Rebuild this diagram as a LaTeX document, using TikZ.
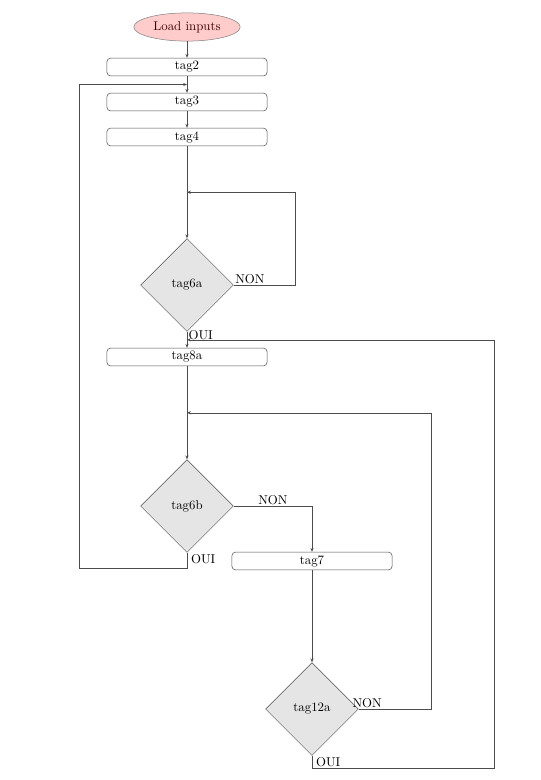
\documentclass[tikz,border=0pt]{standalone}
\usetikzlibrary{shapes.geometric,positioning,calc,arrows.meta}
\tikzset{
  block/.style={draw=black!70, rounded corners=3pt, minimum width=125pt, minimum height=14pt, inner sep=1pt},
  decision/.style={draw=black!70, diamond, fill=gray!20, minimum size=72.5pt, inner sep=0pt},
  startbox/.style={draw=black!50, ellipse, fill=red!20, text=red!25!black, minimum width=83pt, minimum height=22pt, inner sep=1pt},
  lbl/.style={inner sep=1pt},
  link/.style={draw=black!70, ->}
}
\begin{document}
\begin{tikzpicture}[x=0.78pt,y=-0.78pt,>={Stealth[length=3pt,width=2.4pt]}]
\useasboundingbox (0,0) rectangle (540,780);
% main column
\node[startbox] (load) at (187,27) {Load inputs};
\node[block] (tag2) at (187,67) {tag2};
\node[block] (tag3) at (187,102) {tag3};
\node[block] (tag4) at (187,137) {tag4};
\node[decision] (tag6a) at (187,285) {tag6a};
\node[block] (tag8a) at (187,357) {tag8a};
\node[decision] (tag6b) at (187,506) {tag6b};
\node[block] (tag7) at (312,561) {tag7};
\node[decision] (tag12a) at (312,709) {tag12a};
% where the loops come back in
\coordinate (in3) at ($(tag2.south)!0.5!(tag3.north)$);
\coordinate (in6a) at ($(tag4.south)!0.5!(tag6a.north)$);
\coordinate (in8a) at ($(tag6a.south)!0.5!(tag8a.north)$);
\coordinate (in6b) at ($(tag8a.south)!0.5!(tag6b.north)$);
\draw[link] (load) -- (tag2);
\draw[link] (tag2) -- (tag3);
\draw[link] (tag3) -- (tag4);
\draw[link] (tag4) -- (tag6a);
\draw[link] (tag6a.south) node[lbl, anchor=north west, yshift=2pt] {OUI} -- (tag8a);
\draw[link] (tag8a) -- (tag6b);
\draw[link] (tag7) -- (tag12a);
% loops
\draw[link] (tag6a.east) node[lbl, anchor=south west] {NON} -- ++(62,0) |- (in6a);
\draw[link] (tag6b.east) -| node[lbl, above, pos=0.25] {NON} (tag7.north);
\draw[link] (tag6b.south) node[lbl, anchor=north west, xshift=2pt] {OUI} |- (79,568) |- (in3);
\draw[link] (tag12a.east) node[lbl, anchor=south west, xshift=-6pt] {NON} -- ++(73,0) |- (in6b);
\draw[link] (tag12a.south) node[lbl, anchor=north west, xshift=2pt] {OUI} |- (494,768) |- (in8a);
\end{tikzpicture}
\end{document}
